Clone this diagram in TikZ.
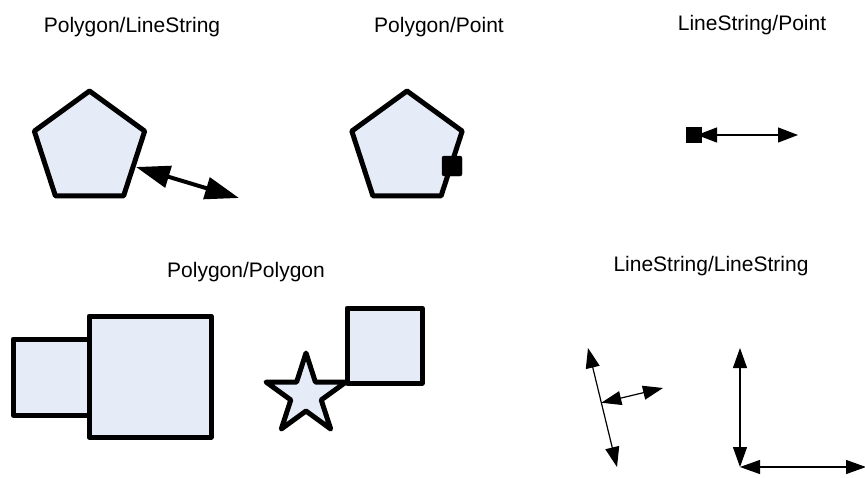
\documentclass[tikz,border=0pt]{standalone}
\usepackage{fontspec}
\setmainfont{Liberation Sans}
\usetikzlibrary{arrows.meta,calc}
\definecolor{polyfill}{RGB}{230,236,247}
\tikzset{
  poly/.style={draw=black, fill=polyfill, line width=5pt, line join=round},
  lbl/.style={anchor=base, inner sep=0pt, font=\fontsize{21}{25}\selectfont},
  thickarrow/.style={line width=4pt, {Triangle[length=34pt,width=22pt]}-{Triangle[length=34pt,width=22pt]}},
  thinarrow/.style={line width=1.2pt, {Triangle[length=20pt,width=14pt]}-{Triangle[length=20pt,width=14pt]}},
  ptbox/.style={fill=black, rounded corners=2pt}
}
\begin{document}
\begin{tikzpicture}[x=1pt,y=-1pt]
\useasboundingbox (0,0) rectangle (865,477);
% labels
\node[lbl] (l1) at (132,32) {Polygon/LineString};
\node[lbl] (l2) at (439,32) {Polygon/Point};
\node[lbl] (l3) at (752,30) {LineString/Point};
\node[lbl] (l4) at (246,277) {Polygon/Polygon};
\node[lbl] (l5) at (711,271) {LineString/LineString};

% Polygon/LineString
\draw[poly] (89.5,91) -- (144.7,131.1) -- (123.6,195.9) -- (55.4,195.9) -- (34.3,131.1) -- cycle;
\coordinate (a1) at (136,167);
\coordinate (a2) at (239,198);
\draw[thickarrow] (a1) -- (a2);

% Polygon/Point
\draw[poly] (407,91) -- (462.2,131.1) -- (441.1,195.9) -- (372.9,195.9) -- (351.8,131.1) -- cycle;
\draw[ptbox] (442,156) rectangle (462,176);

% LineString/Point
\coordinate (b1) at (697,135);
\coordinate (b2) at (798,135);
\draw[thinarrow, {Triangle[length=20pt,width=15pt]}-{Triangle[length=20pt,width=15pt]}] (b1) -- (b2);
\fill (686,127) rectangle (702,143);

% Polygon/Polygon
\draw[poly] (13,339) rectangle (89,415);
\draw[poly] (89,316) rectangle (211,437);
\draw[poly, shift={(306,395)}] (-90:42) -- (-54:16) -- (-18:42) -- (18:16) -- (54:42) -- (90:16) -- (126:42) -- (162:16) -- (198:42) -- (234:16) -- cycle;
\draw[poly] (347,308) rectangle (422,383);

% LineString/LineString
\coordinate (c1) at (588,348);
\coordinate (c2) at (617,467);
\draw[thinarrow] (c1) -- (c2);
\coordinate (c3) at ($(c1)!0.46!(c2)$);
\coordinate (c4) at (663,388);
\draw[thinarrow] (c3) -- (c4);
\coordinate (d1) at (740,348);
\coordinate (d2) at (740,467);
\coordinate (d3) at (866,467);
\draw[thinarrow] (d1) -- (d2);
\draw[thinarrow] (d2) -- (d3);
\end{tikzpicture}
\end{document}
